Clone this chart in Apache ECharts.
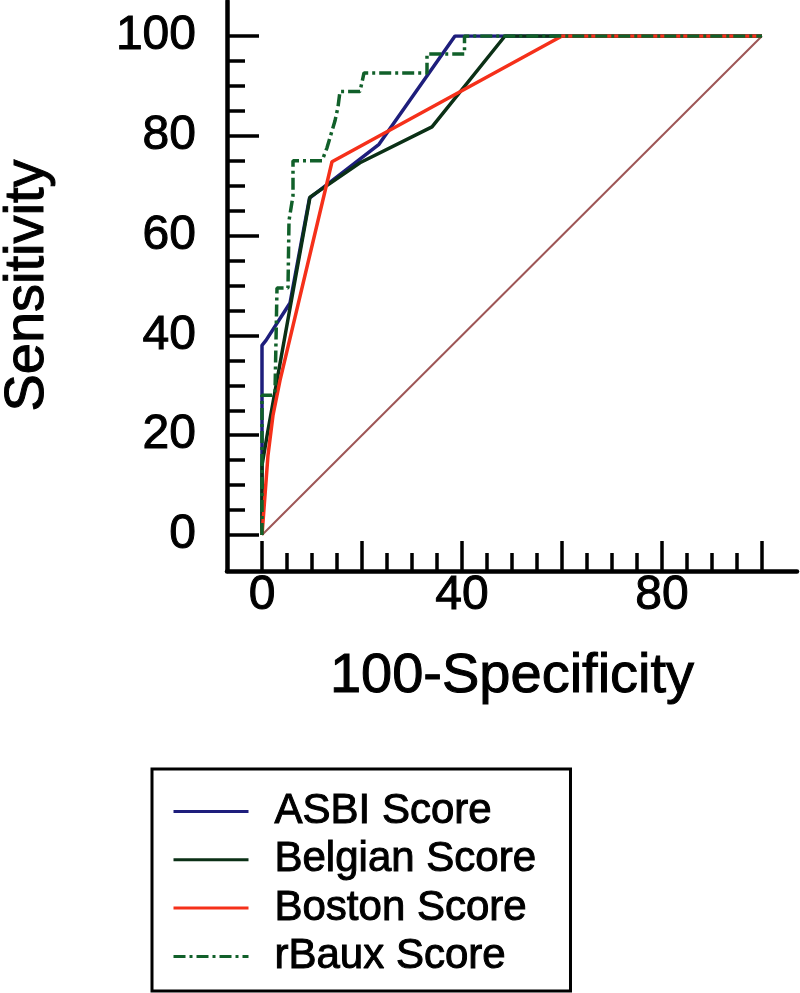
<!DOCTYPE html>
<html><head><meta charset="utf-8">
<script src="https://cdn.jsdelivr.net/npm/echarts@6/dist/echarts.min.js"></script>
<style>html,body{margin:0;padding:0;background:#fff}#c{width:800px;height:993px}</style>
</head><body><div id="c"></div>
<script>
// ---- data ----
const seriesNames = ['ASBI Score', 'Belgian Score', 'Boston Score', 'rBaux Score'];
const asbi = [[0,0],[0,38],[0.8,39],[5.6,46.5],[9.5,67.5],[23.4,78.3],[38.6,100],[100,100]];
const belgian = [[0,0],[0,14],[1.2,21],[9.6,67.7],[19.6,74.6],[34,81.8],[48.6,100],[100,100]];
const boston = [[0,0],[1.2,16],[2.2,24],[3.6,31],[14,74.8],[60,100],[100,100]];
const rbaux = [[0,0],[0,28],[2,28],[2.6,28.5],[3,49.5],[5.2,49.5],[5.4,63],[6.2,68],[6.2,75],[12,75],[13,77.6],[14.6,83],[15.2,85.8],[15.6,88.9],[19.6,88.9],[20.4,92.6],[33,92.6],[33,96.4],[40.5,96.4],[40.5,100],[100,100]];
const chance = [[0,0],[100,100]];
const xLabels = [0, 40, 80];
const yLabels = [0, 20, 40, 60, 80, 100];

// ---- styling ----
const FONT = '"Liberation Sans", Arial, sans-serif';
const colors = {asbi:'#1e1e7c', belgian:'#0b3016', boston:'#f5301a', rbaux:'#11602a', chance:'#9e5656'};
const tickStyle = {color:'#000', width:3.5};
const heavy = {textBorderColor:'#000', textBorderWidth:1};

const chart = echarts.init(document.getElementById('c'), null, {renderer:'canvas'});
const lineSeries = (name, data, color, extra) => Object.assign({
  name, type:'line', data, symbol:'none', silent:true, xAxisIndex:0, yAxisIndex:0,
  lineStyle:{color, width:3.5}, itemStyle:{color}
}, extra || {});

chart.setOption({
  animation:false,
  backgroundColor:'#fff',
  grid:[
    {left:262, right:38, top:36, bottom:458, containLabel:false, outerBoundsMode:'none'},
    {left:227, right:3, top:1, bottom:422, containLabel:false, outerBoundsMode:'none'}
  ],
  xAxis:[
    {type:'value', gridIndex:0, min:0, max:100, interval:20, offset:36,
     axisLine:{show:false, onZero:false},
     axisTick:{show:true, inside:true, length:30, lineStyle:tickStyle},
     minorTick:{show:true, splitNumber:4, length:18, lineStyle:tickStyle},
     splitLine:{show:false},
     axisLabel:Object.assign({margin:1, fontSize:48, color:'#000', fontFamily:FONT,
       formatter:v => xLabels.includes(v) ? String(v) : ''}, heavy),
     name:'100-Specificity', nameLocation:'middle', nameGap:78,
     nameTextStyle:Object.assign({fontSize:56, color:'#000', fontFamily:FONT}, heavy)},
    {type:'value', gridIndex:1, min:0, max:1,
     axisLine:{show:true, onZero:false, lineStyle:{color:'#000', width:4.5}},
     axisTick:{show:false}, axisLabel:{show:false}, splitLine:{show:false}}
  ],
  yAxis:[
    {type:'value', gridIndex:0, min:0, max:100, interval:20, offset:35,
     axisLine:{show:false, onZero:false},
     axisTick:{show:true, inside:true, length:32, lineStyle:tickStyle},
     minorTick:{show:true, splitNumber:4, length:18, lineStyle:tickStyle},
     splitLine:{show:false},
     axisLabel:Object.assign({margin:31, fontSize:48, color:'#000', fontFamily:FONT,
       formatter:v => yLabels.includes(v) ? String(v) : ''}, heavy),
     name:'Sensitivity', nameLocation:'middle', nameGap:171,
     nameTextStyle:Object.assign({fontSize:56, color:'#000', fontFamily:FONT}, heavy)},
    {type:'value', gridIndex:1, min:0, max:1,
     axisLine:{show:true, onZero:false, lineStyle:{color:'#000', width:4.5}},
     axisTick:{show:false}, axisLabel:{show:false}, splitLine:{show:false}}
  ],
  legend:{
    data:seriesNames, orient:'vertical', left:152, top:769, height:300,
    padding:[21, 34, 13, 20], itemWidth:75, itemHeight:14, itemGap:5.3,
    borderColor:'#000', borderWidth:3, selectedMode:false,
    itemStyle:{opacity:0, borderWidth:0},
    lineStyle:{width:3},
    textStyle:Object.assign({fontSize:42, lineHeight:42, color:'#000', fontFamily:FONT, padding:[0,0,0,21]}, heavy)
  },
  series:[
    lineSeries('chance', chance, colors.chance, {lineStyle:{color:colors.chance, width:2}}),
    lineSeries(seriesNames[0], asbi, colors.asbi),
    lineSeries(seriesNames[1], belgian, colors.belgian),
    lineSeries(seriesNames[2], boston, colors.boston),
    lineSeries(seriesNames[3], rbaux, colors.rbaux, {lineStyle:{color:colors.rbaux, width:3.5, type:[12,4,3,4]}})
  ]
});
</script>
</body></html>
